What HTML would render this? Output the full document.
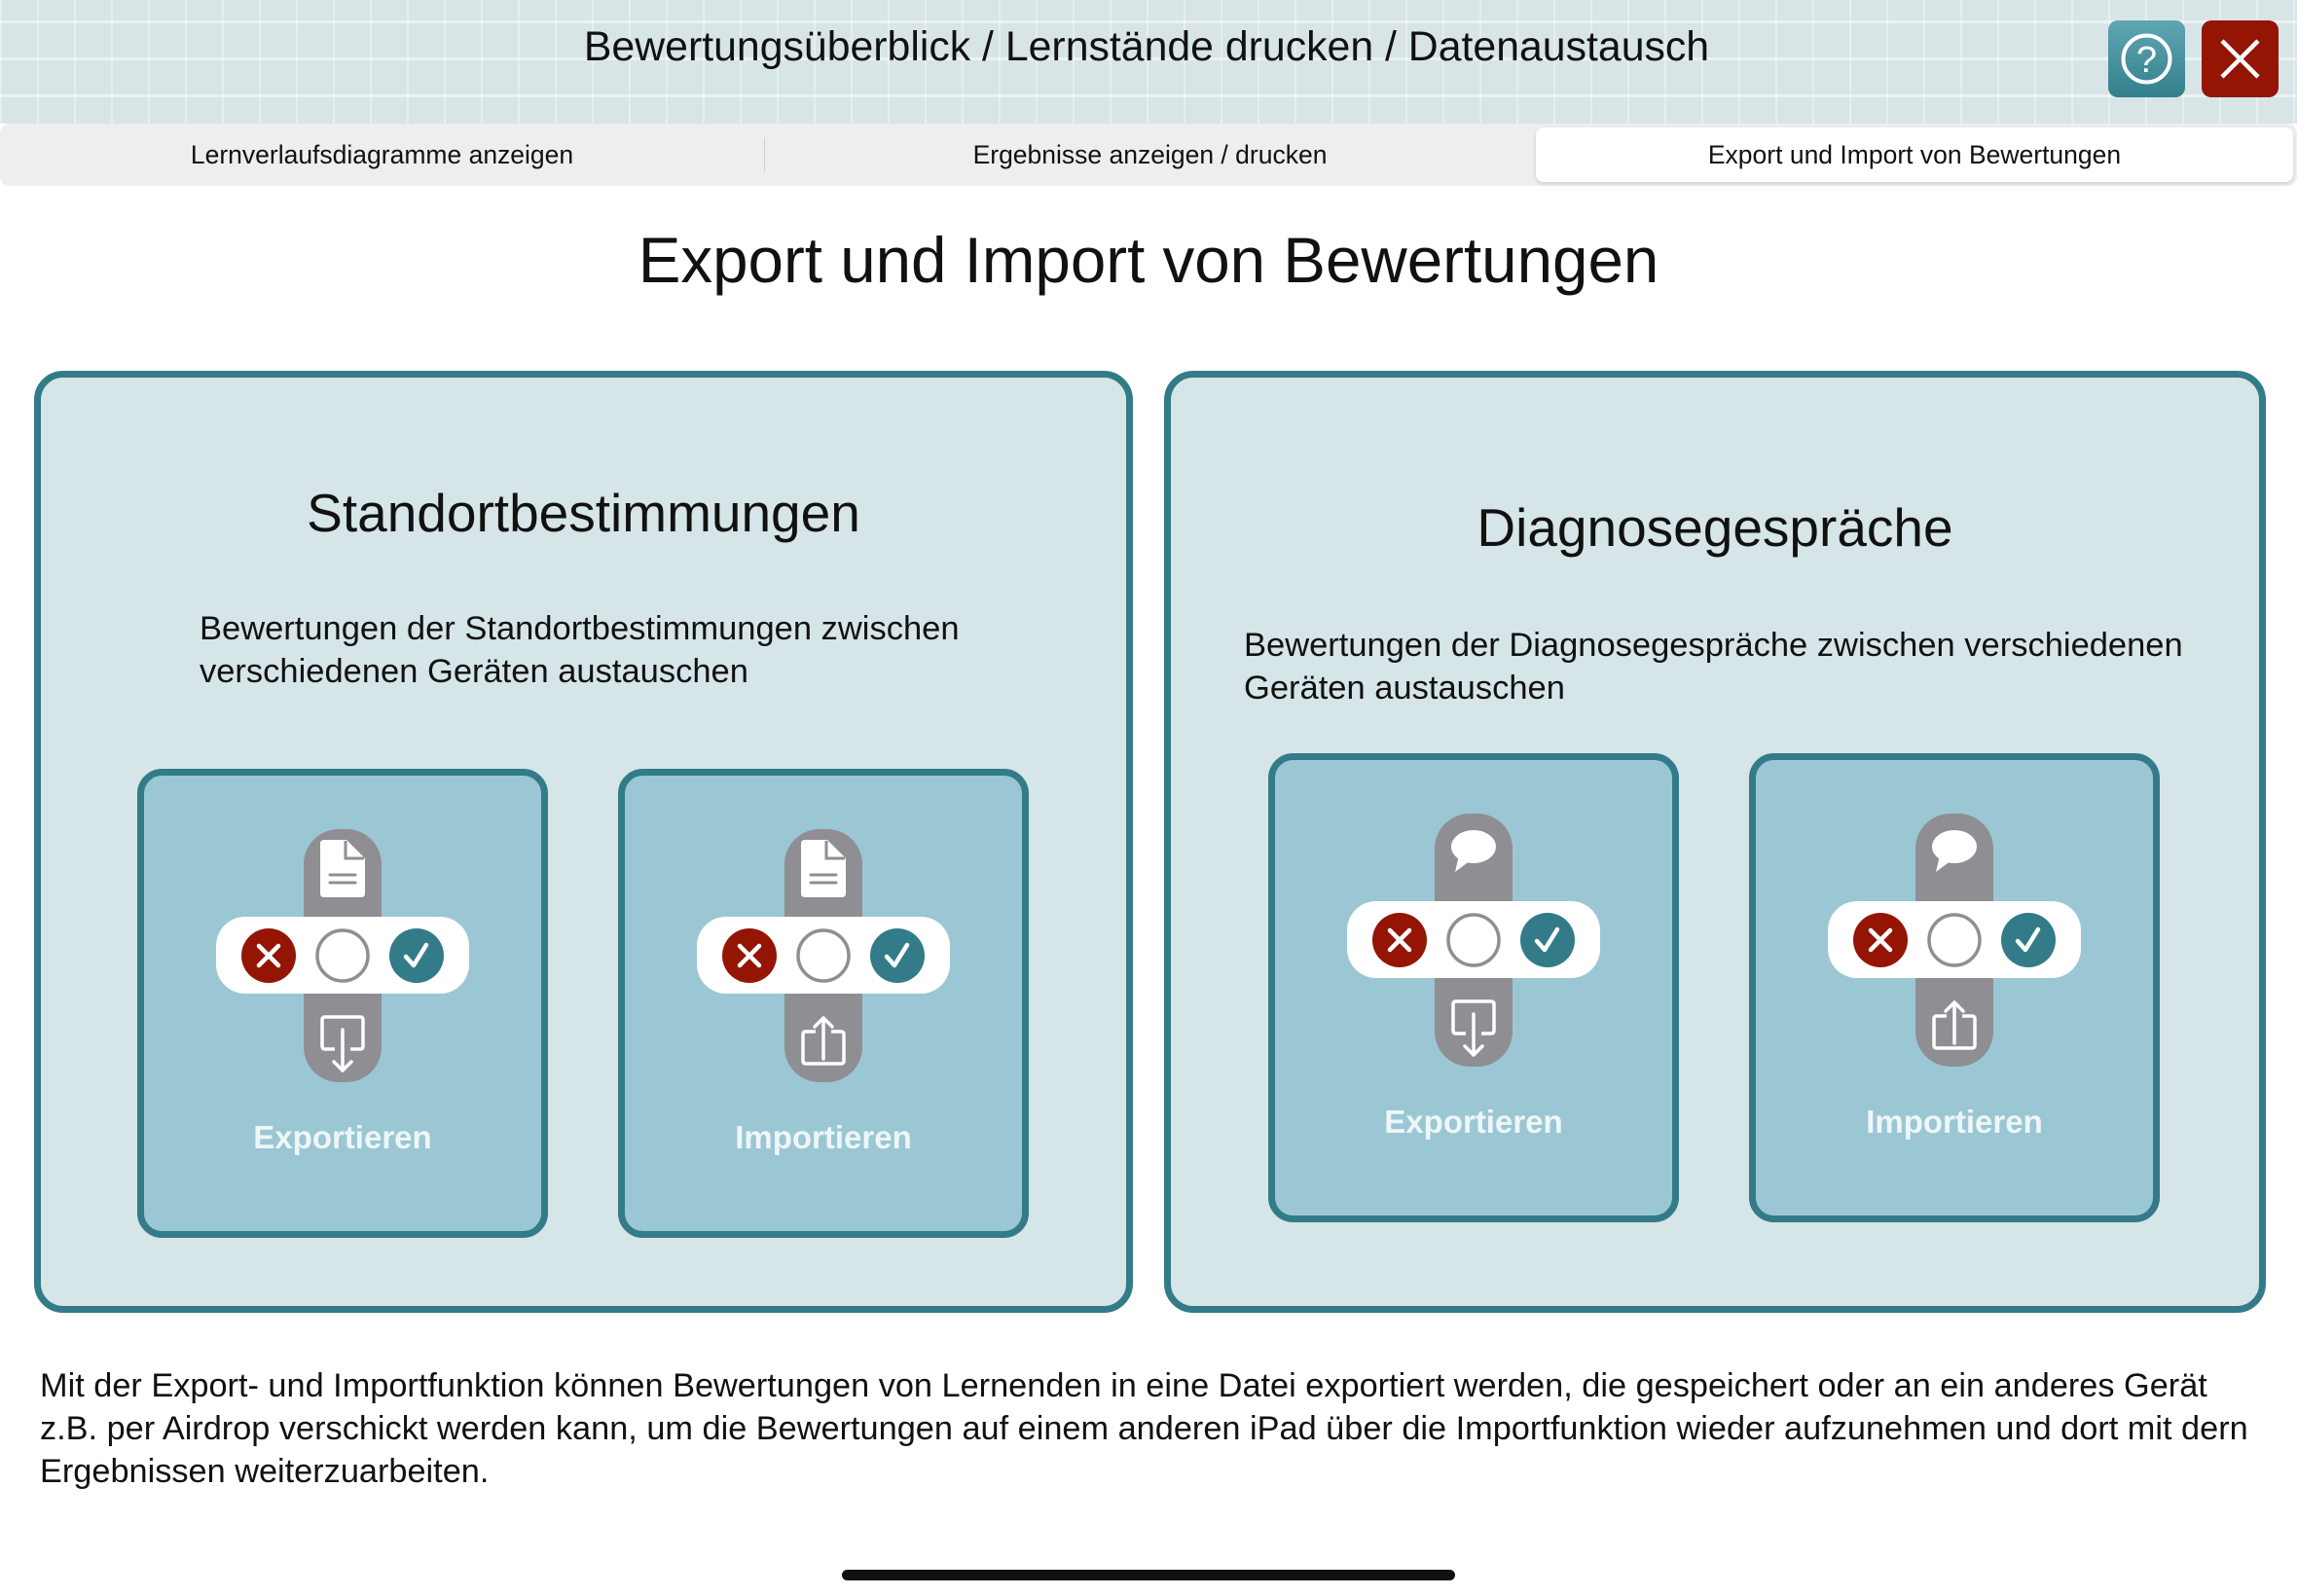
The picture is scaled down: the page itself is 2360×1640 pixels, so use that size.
<!DOCTYPE html>
<html><head><meta charset="utf-8"><style>
*{margin:0;padding:0;box-sizing:border-box}
body{width:2360px;height:1640px;background:#fff;position:relative;overflow:hidden;font-family:"Liberation Sans",sans-serif;color:#111}
.abs{position:absolute}
.hdr{left:0;top:0;width:2360px;height:127px;background-color:#d8e5e7;
background-image:linear-gradient(90deg,rgba(255,255,255,.35) 2px,transparent 2px),linear-gradient(0deg,rgba(255,255,255,.5) 3px,transparent 3px);
background-size:38px 100%,100% 38px;background-position:0 0,0 24px}
.t{white-space:nowrap}
.panel{background:#d6e5e7;border:7px solid #337b89;border-radius:30px}
</style></head><body>
<div class="abs hdr"></div>
<div class="abs t" style="left:0;width:2356px;top:24px;text-align:center;font-size:42.8px">Bewertungsüberblick / Lernstände drucken / Datenaustausch</div>
<div class="abs" style="left:2166px;top:21px;width:79px;height:79px;border-radius:10px;background:linear-gradient(#5fa6b2,#33808c)">
<svg width="79" height="79"><circle cx="39.5" cy="39.5" r="24" fill="none" stroke="#fff" stroke-width="4"/><text x="39.5" y="53" text-anchor="middle" font-size="38" fill="#fff" font-family="Liberation Sans">?</text></svg></div>
<div class="abs" style="left:2262px;top:21px;width:79px;height:79px;border-radius:10px;background:#951505">
<svg width="79" height="79"><path d="M21 21L58 58M58 21L21 58" stroke="#fff" stroke-width="4.5"/></svg></div>
<div class="abs" style="left:0;top:127px;width:2360px;height:64px;background:#eeeeee;border-radius:10px"></div>
<div class="abs" style="left:785px;top:141px;width:1px;height:36px;background:#d0d0d0"></div>
<div class="abs" style="left:1578px;top:131px;width:778px;height:56px;background:#fff;border-radius:8px;box-shadow:0 2px 4px rgba(0,0,0,.12)"></div>
<div class="abs t" style="left:0;width:785px;top:144px;text-align:center;font-size:26.5px">Lernverlaufsdiagramme anzeigen</div>
<div class="abs t" style="left:785px;width:793px;top:144px;text-align:center;font-size:26.5px">Ergebnisse anzeigen / drucken</div>
<div class="abs t" style="left:1578px;width:778px;top:144px;text-align:center;font-size:26.5px">Export und Import von Bewertungen</div>
<div class="abs t" style="left:0;width:2360px;top:230px;text-align:center;font-size:65.5px">Export und Import von Bewertungen</div>

<div class="abs panel" style="left:35px;top:381px;width:1129px;height:968px"></div>
<div class="abs panel" style="left:1196px;top:381px;width:1132px;height:968px"></div>
<div class="abs t" style="left:35px;width:1129px;top:495px;text-align:center;font-size:55px">Standortbestimmungen</div>
<div class="abs" style="left:205px;top:624px;font-size:34.5px;line-height:44px">Bewertungen der Standortbestimmungen zwischen<br>verschiedenen Geräten austauschen</div>
<div class="abs t" style="left:1196px;width:1132px;top:510px;text-align:center;font-size:55px">Diagnosegespräche</div>
<div class="abs" style="left:1278px;top:641px;font-size:34.5px;line-height:44px">Bewertungen der Diagnosegespräche zwischen verschiedenen<br>Geräten austauschen</div>

<svg class="abs" style="left:0;top:0" width="2360" height="1640">
<defs>
<g id="base">
<rect x="3.5" y="3.5" width="415" height="475" rx="22" fill="#9bc7d4" stroke="#337b89" stroke-width="7"/>
<rect x="171" y="62" width="80" height="260" rx="36" fill="#8f8e93"/>
<rect x="81" y="152" width="260" height="79" rx="30" fill="#fff"/>
<circle cx="135" cy="192" r="28" fill="#951505"/>
<path d="M125 182L145 202M145 182L125 202" stroke="#fff" stroke-width="4.5" stroke-linecap="round"/>
<circle cx="211" cy="192" r="26" fill="#fff" stroke="#8f8e93" stroke-width="3.5"/>
<circle cx="287" cy="192" r="28" fill="#337b89"/>
<path d="M276 193L284 202L297 181" fill="none" stroke="#fff" stroke-width="4.5" stroke-linecap="round" stroke-linejoin="round"/>
</g>
<g id="doc"><path d="M192 73H215L234 92V128Q234 132 230 132H192Q188 132 188 128V77Q188 73 192 73Z" fill="#fff"/>
<path d="M214 74V92H233" fill="none" stroke="#8f8e93" stroke-width="3"/>
<path d="M198 109H224M198 117H224" stroke="#8f8e93" stroke-width="3" stroke-linecap="round"/></g>
<g id="bub"><ellipse cx="211" cy="96" rx="23" ry="17" fill="#fff"/><path d="M196 105L192 122L208 110Z" fill="#fff"/></g>
<g id="exp"><path d="M203 288H193Q190 288 190 285V258Q190 255 193 255H229Q232 255 232 258V285Q232 288 229 288H219" fill="none" stroke="#fff" stroke-width="3.5"/>
<path d="M211 268V310M202 301L211 310L220 301" fill="none" stroke="#fff" stroke-width="3.5" stroke-linecap="round" stroke-linejoin="round"/></g>
<g id="imp"><path d="M203 270H193Q190 270 190 273V300Q190 303 193 303H229Q232 303 232 300V273Q232 270 229 270H219" fill="none" stroke="#fff" stroke-width="3.5"/>
<path d="M211 298V256M202 265L211 256L220 265" fill="none" stroke="#fff" stroke-width="3.5" stroke-linecap="round" stroke-linejoin="round"/></g>
</defs>
<g transform="translate(141,790)"><use href="#base"/><use href="#doc"/><use href="#exp"/><text x="211" y="390" text-anchor="middle" font-size="33" font-weight="bold" fill="#eef6f8" font-family="Liberation Sans">Exportieren</text></g>
<g transform="translate(635,790)"><use href="#base"/><use href="#doc"/><use href="#imp"/><text x="211" y="390" text-anchor="middle" font-size="33" font-weight="bold" fill="#eef6f8" font-family="Liberation Sans">Importieren</text></g>
<g transform="translate(1303,774)"><use href="#base"/><use href="#bub"/><use href="#exp"/><text x="211" y="390" text-anchor="middle" font-size="33" font-weight="bold" fill="#eef6f8" font-family="Liberation Sans">Exportieren</text></g>
<g transform="translate(1797,774)"><use href="#base"/><use href="#bub"/><use href="#imp"/><text x="211" y="390" text-anchor="middle" font-size="33" font-weight="bold" fill="#eef6f8" font-family="Liberation Sans">Importieren</text></g>
</svg>

<div class="abs" style="left:41px;top:1402px;width:2310px;font-size:34.3px;line-height:44px;white-space:nowrap">Mit der Export- und Importfunktion können Bewertungen von Lernenden in eine Datei exportiert werden, die gespeichert oder an ein anderes Gerät<br>z.B. per Airdrop verschickt werden kann, um die Bewertungen auf einem anderen iPad über die Importfunktion wieder aufzunehmen und dort mit dern<br>Ergebnissen weiterzuarbeiten.</div>
<div class="abs" style="left:865px;top:1613px;width:630px;height:11px;border-radius:6px;background:#111"></div>
</body></html>
